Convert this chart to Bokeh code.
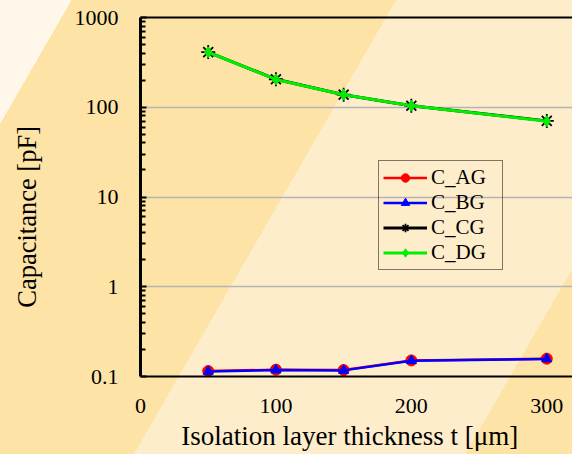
from bokeh.plotting import figure
from bokeh.models import (Range1d, FixedTicker, LinearAxis, Legend, LegendItem,
                          CustomJSTickFormatter)
from bokeh.embed import file_html
from bokeh.resources import INLINE

# ---- data ----
thickness = [50, 100, 150, 200, 300]
c_ag = [0.115, 0.119, 0.118, 0.151, 0.158]
c_bg = [0.114, 0.118, 0.117, 0.150, 0.157]
c_cg = [412, 205, 138, 104, 70.5]
c_dg = [410, 204, 138, 104, 70]

x_ticks = [0, 100, 200, 300]
y_ticks = [0.1, 1, 10, 100, 1000]
y_labels = ["0.1", "1", "10", "100", "1000"]
y_minor = [m * d for d in [0.1, 1, 10, 100] for m in range(2, 10)]

FONT = "Liberation Serif"
NB = "\u00a0"

p = figure(width=572, height=454, output_backend="svg", toolbar_location=None,
           y_axis_type="log", x_range=Range1d(0, 319), y_range=Range1d(0.1, 1000),
           min_border_left=140, min_border_right=0, min_border_top=17,
           min_border_bottom=78)
p.border_fill_alpha = 0
p.background_fill_alpha = 0
p.outline_line_color = None
p.styles = {"background": "linear-gradient(120deg, #FFF7E9 0px, #FFF7E9 62px, "
                          "#FEE3A6 62px, #FEE3A6 343px, #FEEDCB 343px, "
                          "#FEEDCB 630px, #FEE3A6 630px, #FEE3A6 100%)"}

# grids
p.xgrid.visible = False
p.ygrid.grid_line_color = "#B4B4B4"
p.ygrid.grid_line_width = 1.5

# x axis
xa = p.xaxis[0]
xa.ticker = FixedTicker(ticks=x_ticks)
xa.major_tick_line_color = None
xa.minor_tick_line_color = None
xa.axis_line_width = 2
xa.axis_line_color = "black"
xa.major_label_text_font = FONT
xa.major_label_text_font_size = "22px"
xa.major_label_text_color = "black"
xa.major_label_standoff = 16
xa.axis_label = "Isolation layer thickness t [\u03bcm]" + NB * 2
xa.axis_label_text_font = FONT
xa.axis_label_text_font_size = "27px"
xa.axis_label_text_font_style = "normal"
xa.axis_label_text_color = "black"
xa.axis_label_standoff = 5

# y axis
ya = p.yaxis[0]
ya.ticker = FixedTicker(ticks=y_ticks, minor_ticks=y_minor)
ya.formatter = CustomJSTickFormatter(args=dict(tv=y_ticks, lab=y_labels), code="""
let best = 0;
for (let i = 0; i < tv.length; i++) {
  if (Math.abs(Math.log10(tv[i]) - Math.log10(tick)) <
      Math.abs(Math.log10(tv[best]) - Math.log10(tick))) best = i;
}
return lab[best];
""")
ya.axis_line_width = 3
ya.axis_line_color = "black"
ya.major_tick_in = 6
ya.major_tick_out = 0
ya.major_tick_line_width = 2
ya.minor_tick_in = 5
ya.minor_tick_out = 0
ya.minor_tick_line_width = 2
ya.major_label_text_font = FONT
ya.major_label_text_font_size = "22px"
ya.major_label_text_color = "black"
ya.major_label_standoff = 22
ya.axis_label = "Capacitance [pF]" + NB * 6
ya.axis_label_text_font = FONT
ya.axis_label_text_font_size = "26.5px"
ya.axis_label_text_font_style = "normal"
ya.axis_label_text_color = "black"
ya.axis_label_standoff = 30

# top border line as an axis without ticks
top = LinearAxis(ticker=FixedTicker(ticks=[]), major_tick_line_color=None,
                 minor_tick_line_color=None, major_label_text_font_size="0px",
                 axis_line_width=2, axis_line_color="black", major_label_standoff=0)
p.add_layout(top, "above")

# series
l_ag = p.line(thickness, c_ag, line_color="red", line_width=2.5)
s_ag = p.scatter(thickness, c_ag, marker="circle", size=11, fill_color="red", line_color="red")
l_bg = p.line(thickness, c_bg, line_color="blue", line_width=2.5)
s_bg = p.scatter(thickness, c_bg, marker="triangle", size=10, fill_color="blue", line_color="blue")
l_cg = p.line(thickness, c_cg, line_color="black", line_width=3)
s_cg = p.scatter(thickness, c_cg, marker="asterisk", size=14, line_color="black", line_width=1.8)
l_dg = p.line(thickness, c_dg, line_color="#00EE00", line_width=3)
s_dg = p.scatter(thickness, c_dg, marker="diamond", size=11, fill_color="#00EE00", line_color="#00EE00")

legend = Legend(items=[
    LegendItem(label="C_AG", renderers=[l_ag, s_ag]),
    LegendItem(label="C_BG", renderers=[l_bg, s_bg]),
    LegendItem(label="C_CG", renderers=[l_cg, s_cg]),
    LegendItem(label="C_DG", renderers=[l_dg, s_dg]),
], location=(238, 106))
legend.background_fill_alpha = 0
legend.border_line_color = "black"
legend.border_line_width = 1.5
legend.padding = 4
legend.margin = 0
legend.spacing = 0
legend.glyph_width = 44
legend.glyph_height = 21
legend.label_height = 21
legend.label_standoff = 4
legend.label_width = 67
legend.label_text_font = FONT
legend.label_text_font_size = "21px"
legend.label_text_color = "black"
p.add_layout(legend, "center")

open("out.html", "w").write(file_html(p, INLINE))
